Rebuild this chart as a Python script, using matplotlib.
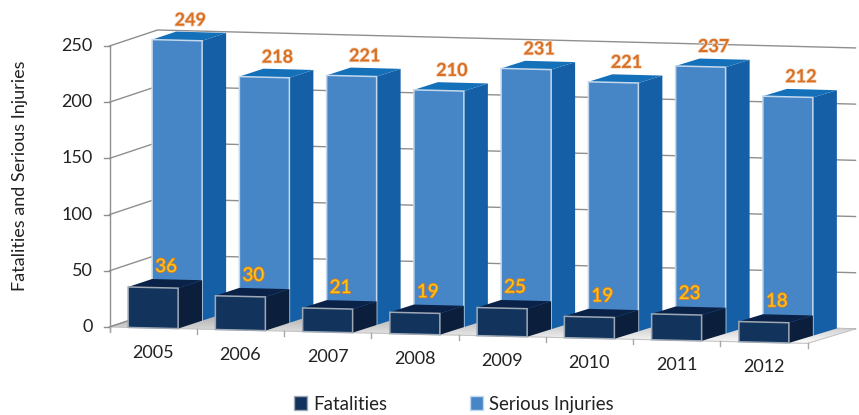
import matplotlib
matplotlib.use('Agg')
import matplotlib.pyplot as plt
import matplotlib.patheffects as pe
from matplotlib.patches import Patch, Polygon
import numpy as np

plt.rcParams['font.family'] = ['Lato', 'DejaVu Sans']

years = ['2005', '2006', '2007', '2008', '2009', '2010', '2011', '2012']
fatalities = [36, 30, 21, 19, 25, 19, 23, 18]
serious = [249, 218, 221, 210, 231, 221, 237, 212]
y_ticks = [0, 50, 100, 150, 200, 250]


# category, value and depth row -> pixel position of the tilted 3D box
def proj(cat, val, depth=0):
    x = 109.5 + cat * 87.25 + depth * 24
    slope = 0.0235 + 0.0011 * depth
    y = 327 + slope * cat * 87.25 - depth * 8 - val * 1.124
    return x, y


def box(ax, cat, val, row, front, side, top, edge):
    w = 0.573
    c0 = cat + (1 - w) / 2
    c1 = c0 + w
    f = [proj(c0, 0, row), proj(c1, 0, row), proj(c1, val, row), proj(c0, val, row)]
    s = [proj(c1, 0, row), proj(c1, 0, row + 1), proj(c1, val, row + 1), proj(c1, val, row)]
    t = [proj(c0, val, row), proj(c1, val, row), proj(c1, val, row + 1), proj(c0, val, row + 1)]
    ax.add_patch(Polygon(s, fc=side, ec='none', zorder=3 + 2 * (1 - row)))
    ax.add_patch(Polygon(t, fc=top, ec='none', zorder=3 + 2 * (1 - row)))
    ax.add_patch(Polygon(f, fc=front, ec=edge, lw=1.1, zorder=4 + 2 * (1 - row)))
    return proj((c0 + c1) / 2, val, row)


fig = plt.figure(figsize=(8.59, 4.15), dpi=100)
ax = fig.add_axes([0, 0, 1, 1])
ax.set_xlim(0, 859)
ax.set_ylim(415, 0)
ax.axis('off')

n = len(years)
grid = '#8f8f8f'

# floor with a grey fade towards the back
corners = [proj(0, 0, 0), proj(n, 0, 0), proj(n, 0, 2), proj(0, 0, 2)]
floor = Polygon(corners, fc='none', ec='#c4c4c4', lw=0.8, zorder=2)
ax.add_patch(floor)
fade = ax.imshow(np.linspace(0.58, 1, 64)[:, None], cmap='gray', vmin=0, vmax=1,
                 extent=[100, 859, 345, 305], aspect='auto', zorder=1.5)
fade.set_clip_path(floor)
ax.set_xlim(0, 859)
ax.set_ylim(415, 0)

# walls and gridlines
for v in y_ticks:
    a, b, c = proj(0, v, 0), proj(0, v, 2), proj(n, v, 2)
    ax.plot([a[0] - 6, a[0]], [a[1], a[1]], color=grid, lw=1, zorder=1)
    ax.plot([a[0], b[0], c[0]], [a[1], b[1], c[1]], color=grid, lw=1, zorder=1)
    ax.text(a[0] - 17, a[1], str(v), ha='right', va='center', fontsize=13, color='#222222')
p0, p1 = proj(0, 0, 0), proj(0, y_ticks[-1], 0)
ax.plot([p0[0], p1[0]], [p0[1] + 4, p1[1]], color=grid, lw=1, zorder=1)
q0 = proj(0, 0, 2)
ax.plot([p0[0], q0[0]], [p0[1], q0[1]], color=grid, lw=1, zorder=2)
for i in range(n + 1):
    p = proj(i, 0, 0)
    ax.plot([p[0], p[0]], [p[1], p[1] + 5], color='#a8a8a8', lw=1, zorder=2)

for i, (yr, f, s) in enumerate(zip(years, fatalities, serious)):
    tx, ty = box(ax, i, s, 1, '#4786C6', '#155FA6', '#1570BA', '#C3D8EC')
    ax.text(tx + 13, ty - 20, str(s), ha='center', va='center', fontsize=13, fontweight='bold',
            color='#D96F22', zorder=9,
            path_effects=[pe.withStroke(linewidth=1.2, foreground='#F3D9C4')])
    tx, ty = box(ax, i, f, 0, '#12335C', '#0B1F3D', '#0B2248', '#9FA9B6')
    ax.text(tx + 13, ty - 21, str(f), ha='center', va='center', fontsize=13.5,
            color='#FFC61A', zorder=9,
            path_effects=[pe.withStroke(linewidth=1.2, foreground='#DE7F1C')])
    lx, ly = proj(i + 0.5, 0, 0)
    ax.text(lx, ly + 25, yr, ha='center', va='center', fontsize=13, color='#222222')

ax.text(20, 176, 'Fatalities and Serious Injuries', rotation=90, ha='center', va='center',
        fontsize=13, color='#222222')

handles = [Patch(fc='#12335C', ec='#9FA9B6', label='Fatalities'),
           Patch(fc='#4786C6', ec='#C3D8EC', label='Serious Injuries')]
ax.legend(handles=handles, ncol=2, frameon=False, loc='center', fontsize=13.4,
          bbox_to_anchor=(454 / 859, 1 - 404 / 415), handlelength=0.7, handleheight=0.7,
          handletextpad=0.35, columnspacing=4.4, labelcolor='#222222')

fig.savefig('out.png', dpi=100)
